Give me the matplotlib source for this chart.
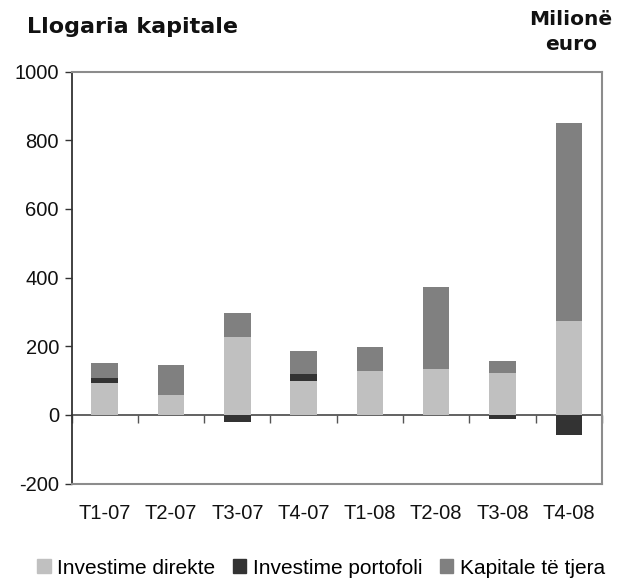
import matplotlib
matplotlib.use("Agg")
import matplotlib.pyplot as plt
import numpy as np
from matplotlib.patches import Patch

categories = ["T1-07", "T2-07", "T3-07", "T4-07", "T1-08", "T2-08", "T3-08", "T4-08"]
direkte = [93, 58, 227, 99, 128, 134, 122, 274]
portofoli = [15, 0, -20, 20, 0, 0, -11, -58]
tjera = [44, 87, 70, 67, 70, 239, 35, 576]
series_names = ["Investime direkte", "Investime portofoli", "Kapitale të tjera"]
yticks = [-200, 0, 200, 400, 600, 800, 1000]

c_dir, c_port, c_tj = "#c0c0c0", "#333333", "#808080"

plt.rcParams['font.family'] = ['Liberation Sans', 'DejaVu Sans']

fig = plt.figure(figsize=(6.22, 5.80), dpi=100)
ax = fig.add_axes([71.5/622, 1 - 483.5/580, (602-71.5)/622, (483.5-71.5)/580])

x = np.arange(len(categories))
d = np.array(direkte, float)
p = np.array(portofoli, float)
t = np.array(tjera, float)
w = 0.4
ax.bar(x, d, w, color=c_dir, zorder=2)
pos_p = np.where(p > 0, p, 0)
neg_p = np.where(p < 0, p, 0)
ax.bar(x, pos_p, w, bottom=d, color=c_port, zorder=2)
ax.bar(x, neg_p, w, color=c_port, zorder=2)
ax.bar(x, t, w, bottom=d + pos_p, color=c_tj, zorder=2)

ax.set_xlim(-0.5, len(categories) - 0.5)
ax.set_ylim(-200, 1000)
ax.set_yticks(yticks)
ax.set_yticklabels([str(v) for v in yticks], fontsize=14.5, color='#111111')
ax.tick_params(axis='y', direction='out', length=5, width=1, color='#333333', pad=4)

ax.set_xticks(x)
ax.set_xticklabels(categories, fontsize=14.5, color='#111111')
ax.tick_params(axis='x', length=0, pad=15)

ax.spines['left'].set_color('#333333')
ax.spines['left'].set_linewidth(1.3)
for s in ['top', 'right', 'bottom']:
    ax.spines[s].set_color('#8c8c8c')
    ax.spines[s].set_linewidth(1.5)

# zero axis with ticks at category boundaries
sec = ax.secondary_xaxis(200/1200)
sec.set_xticks(np.arange(len(categories) + 1) - 0.5)
sec.set_xticklabels([])
sec.tick_params(direction='out', length=6, width=1, color='#555555')
sec.spines['bottom'].set_color('#555555')
sec.spines['bottom'].set_linewidth(1.3)

fig.text(27/622, 1 - 33/580, "Llogaria kapitale", fontsize=16, fontweight='bold',
         family=['DejaVu Sans'], ha='left', va='baseline', color='#111111')
fig.text(571/622, 1 - 25/580, "Milionë", fontsize=14.5, fontweight='bold',
         family=['DejaVu Sans'], ha='center', va='baseline', color='#111111')
fig.text(571/622, 1 - 50/580, "euro", fontsize=14.5, fontweight='bold',
         family=['DejaVu Sans'], ha='center', va='baseline', color='#111111')

handles = [Patch(color=c_dir), Patch(color=c_port), Patch(color=c_tj)]
fig.legend(handles, series_names, loc='center', bbox_to_anchor=(321/622, 1 - 568/580),
           ncol=3, frameon=False, fontsize=15, handlelength=0.65, handleheight=0.65,
           handletextpad=0.3, columnspacing=0.85, borderpad=0, borderaxespad=0)

fig.savefig("out.png", dpi=100)
